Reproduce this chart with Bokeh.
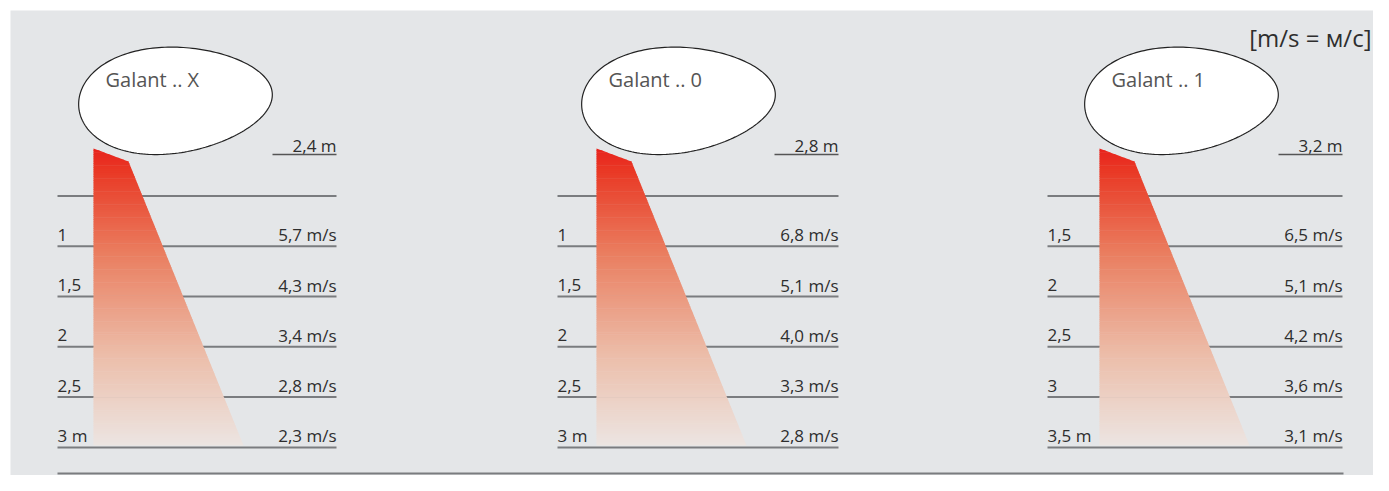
import numpy as np
from bokeh.plotting import figure
from bokeh.models import Range1d
from bokeh.core.properties import value
from bokeh.embed import file_html
from bokeh.resources import INLINE

# ---------------- data ----------------
models = ["Galant .. X", "Galant .. 0", "Galant .. 1"]
mount_heights = [2.4, 2.8, 3.2]
distances_X = [1, 1.5, 2, 2.5, 3]
distances_0 = [1, 1.5, 2, 2.5, 3]
distances_1 = [1.5, 2, 2.5, 3, 3.5]
velocity_X = [5.7, 4.3, 3.4, 2.8, 2.3]
velocity_0 = [6.8, 5.1, 4.0, 3.3, 2.8]
velocity_1 = [6.5, 5.1, 4.2, 3.6, 3.1]
unit_note = "[m/s = м/с]"

distances = [distances_X, distances_0, distances_1]
velocities = [velocity_X, velocity_0, velocity_1]


def fmt_g(v):
    return ("%g" % v).replace(".", ",")


def fmt_1(v):
    return ("%.1f" % v).replace(".", ",")


# ---------------- layout (reference pixel space) ----------------
W, H = 1373, 475
BG = "#e4e6e8"
LINE = "#7a7c7f"
TXT = "#2e2e2e"
FONT = value("Open Sans")

panel_x0 = [93, 596, 1099]          # left edge of each cone
line_left = [57, 557, 1047]
line_right = [336, 838, 1342]
row_first_y = 245.7
row_gap = 50.3
top_line_y = row_first_y - row_gap
bottom_line_y = 473

p = figure(width=W, height=H, output_backend="svg", toolbar_location=None,
           x_range=Range1d(0, W), y_range=Range1d(H, 0),
           min_border=0, outline_line_color=None,
           background_fill_color="white", border_fill_color="white")
p.axis.visible = False
p.grid.visible = False

# panel background
p.quad(left=[10], right=[W + 20], top=[10], bottom=[H + 20], fill_color=BG, line_color=None)

# horizontal lines
x0s, x1s, ys = [], [], []
for k in range(3):
    n = len(distances[k])
    ys_k = [top_line_y] + [row_first_y + i * row_gap for i in range(n)]
    for y in ys_k:
        x0s.append(line_left[k])
        x1s.append(line_right[k])
        ys.append(y)
p.segment(x0=x0s, y0=ys, x1=x1s, y1=ys, line_color=LINE, line_width=2)
p.segment(x0=[57], y0=[bottom_line_y], x1=[1343], y1=[bottom_line_y],
          line_color=LINE, line_width=2)

# cones with vertical gradient
cone_top, cone_knee, cone_bot = 148.0, 161.0, 445.0
knee_dx, bot_dx = 35.0, 150.0
stops_t = np.array([0.0, 0.08, 0.35, 0.7, 1.0])
stops_c = np.array([[232, 34, 28], [233, 58, 38], [234, 125, 95],
                    [236, 190, 170], [236, 229, 226]], dtype=float)


def right_edge(y):
    y = np.asarray(y, dtype=float)
    r1 = (y - cone_top) / (cone_knee - cone_top) * knee_dx
    r2 = knee_dx + (y - cone_knee) / (cone_bot - cone_knee) * (bot_dx - knee_dx)
    return np.where(y < cone_knee, r1, r2)


N = 160
edges = np.linspace(cone_top, cone_bot, N + 1)
for k in range(3):
    xs, ysp, cols = [], [], []
    for i in range(N):
        ya, yb = edges[i], min(edges[i + 1] + 0.6, cone_bot)
        mid = 0.5 * (edges[i] + edges[i + 1])
        pts_y = [ya, yb]
        if ya < cone_knee < yb:
            pts_y = [ya, cone_knee, yb]
        rx = right_edge(pts_y)
        px = [panel_x0[k]] + list(panel_x0[k] + rx) + [panel_x0[k]]
        py = [ya] + pts_y + [yb]
        xs.append(px)
        ysp.append(py)
        t = (mid - cone_top) / (cone_bot - cone_top)
        c = [np.interp(t, stops_t, stops_c[:, j]) for j in range(3)]
        cols.append("#%02x%02x%02x" % tuple(int(round(v)) for v in c))
    p.patches(xs=xs, ys=ysp, fill_color=cols, line_color=None)

# egg-shaped lamp outlines
t = np.linspace(0, 2 * np.pi, 200)
a, b, kk, rot = 97.0, 53.0, 0.13, np.deg2rad(-4)
ex = a * np.cos(t)
ey = b * np.sin(t) * (1 - kk * np.cos(t))
rx = ex * np.cos(rot) - ey * np.sin(rot)
ry = ex * np.sin(rot) + ey * np.cos(rot)
for k in range(3):
    cx = panel_x0[k] + 82
    cy = 99.5
    p.patch(x=cx + rx, y=cy + ry, fill_color="white", line_color="#222222", line_width=1.2)

# model names
p.text(x=[panel_x0[k] + 12 for k in range(3)], y=[78.5] * 3, text=models,
       text_font=FONT, text_font_size="20px", text_color="#555555",
       text_align="left", text_baseline="middle")

# mounting heights with underline
p.text(x=line_right, y=[144.5] * 3, text=[fmt_g(h) + " m" for h in mount_heights],
       text_font=FONT, text_font_size="17px", text_color=TXT,
       text_align="right", text_baseline="middle")
p.segment(x0=[r - 64 for r in line_right], y0=[154] * 3, x1=line_right, y1=[154] * 3,
          line_color="#555555", line_width=1.5)

# row labels
lx, ly, lt, rxs, rys, rt = [], [], [], [], [], []
for k in range(3):
    n = len(distances[k])
    for i in range(n):
        y = row_first_y + i * row_gap - 11.5
        lab = fmt_g(distances[k][i]) + (" m" if i == n - 1 else "")
        lx.append(line_left[k]); ly.append(y); lt.append(lab)
        rxs.append(line_right[k]); rys.append(y); rt.append(fmt_1(velocities[k][i]) + " m/s")
p.text(x=lx, y=ly, text=lt, text_font=FONT, text_font_size="17px", text_color=TXT,
       text_align="left", text_baseline="middle")
p.text(x=rxs, y=rys, text=rt, text_font=FONT, text_font_size="17px", text_color=TXT,
       text_align="right", text_baseline="middle")

# unit note
p.text(x=[1371], y=[37], text=[unit_note], text_font=FONT, text_font_size="24px",
       text_color=TXT, text_align="right", text_baseline="middle")

open("out.html", "w").write(file_html(p, INLINE))
